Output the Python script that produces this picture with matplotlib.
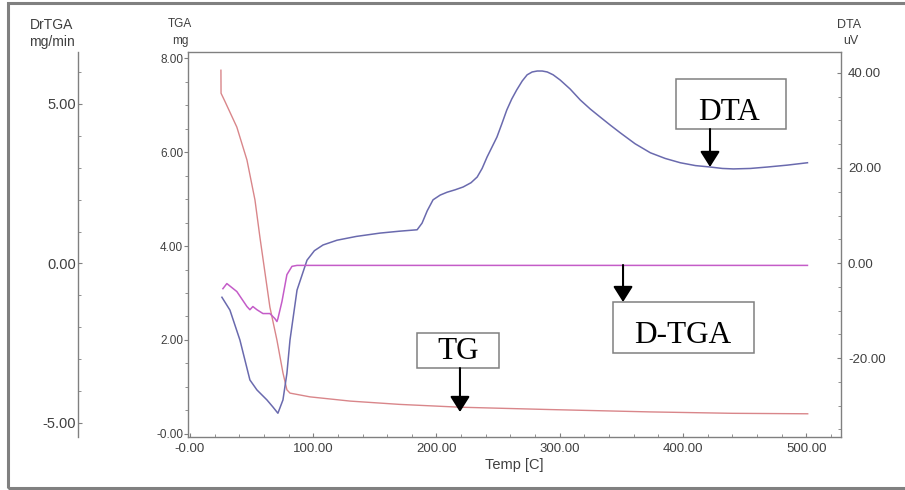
import numpy as np
import matplotlib.pyplot as plt
from matplotlib.patches import Rectangle
from matplotlib.ticker import MultipleLocator, FixedLocator

plt.rc('font', family='Liberation Sans')

# TG: sample mass (mg) against temperature (C)
tg_temp = [25.2, 25.3, 28.4, 38.1, 46.3, 52.8, 56.8, 64.9, 70.6, 75.5, 78.7, 81.2,
           97.4, 130, 170, 219, 292, 373, 440, 501]
tg_mass = [7.74, 7.25, 7.08, 6.53, 5.83, 4.98, 4.19, 2.70, 2.00, 1.30, 0.94, 0.87,
           0.79, 0.70, 0.63, 0.57, 0.52, 0.47, 0.44, 0.43]

# DTA signal (uV) against temperature (C)
dta_temp = [26.0, 32.5, 40.6, 48.7, 54.4, 62.5, 67.4, 71.4, 75.5, 78.7, 81.2, 86.9,
            95.0, 101, 108, 119.3, 135, 154.2, 170, 184.3, 188.3, 192.5, 197.2, 203,
            208.6, 215, 221.6, 228, 233, 237, 241, 245, 249, 253, 257, 261, 265,
            269.5, 273.5, 277.6, 281.7, 285.7, 289.8, 294.6, 300.3, 308.4, 316.6,
            324.7, 332.8, 341, 349, 361, 373.4, 385.5, 397.7, 410, 422, 431.8, 440.7,
            454.5, 468.3, 484.5, 500.8]
dta_signal = [-7.2, -9.9, -16.2, -24.6, -26.7, -28.8, -30.3, -31.6, -28.8, -23.2,
              -16.2, -5.7, 0.6, 2.6, 3.8, 4.8, 5.6, 6.3, 6.7, 7.0, 8.4, 11.0, 13.3,
              14.3, 14.9, 15.4, 16.0, 16.9, 18.1, 19.9, 22.3, 24.4, 26.5, 29.3, 32.2,
              34.5, 36.4, 38.3, 39.6, 40.2, 40.4, 40.4, 40.2, 39.6, 38.5, 36.6, 34.3,
              32.4, 30.7, 29.0, 27.4, 25.1, 23.2, 22.0, 21.1, 20.5, 20.2, 19.9, 19.8,
              19.9, 20.2, 20.6, 21.1]

# derivative TG (mg/min) against temperature (C)
dtg_temp = [26.8, 30.0, 38.1, 46.3, 48.7, 51.1, 54.4, 59.3, 64.9, 69.0, 70.6, 71.4,
            74.7, 78.7, 82.8, 86.9, 200, 350, 500.8]
dtg_rate = [-0.79, -0.63, -0.88, -1.35, -1.45, -1.35, -1.45, -1.57, -1.57, -1.73,
            -1.82, -1.73, -1.19, -0.35, -0.09, -0.06, -0.06, -0.06, -0.06]

x_ticks = [0, 100, 200, 300, 400, 500]
x_labels = ['-0.00', '100.00', '200.00', '300.00', '400.00', '500.00']
tga_ticks = [0, 2, 4, 6, 8]
tga_labels = ['-0.00', '2.00', '4.00', '6.00', '8.00']
dtg_ticks = [-5, 0, 5]
dtg_labels = ['-5.00', '0.00', '5.00']
dta_ticks = [-20, 0, 20, 40]
dta_labels = ['-20.00', '0.00', '20.00', '40.00']

grey = '#808080'
txt = '#404040'

fig = plt.figure(figsize=(9.05, 4.9), dpi=100)
fig.patches.append(Rectangle((8/905, 2/490), 1.0, 485/490, transform=fig.transFigure,
                             fill=False, ec=grey, lw=2.2, clip_on=False))

ax = fig.add_axes([188/905, 53/490, 653/905, 385/490])
ax2 = ax.twinx()
ax3 = ax.twinx()

ax.plot(tg_temp, tg_mass, color='#d9868a', lw=1.0)
ax2.plot(dta_temp, dta_signal, color='#6a6aae', lw=1.1)
ax3.plot(dtg_temp, dtg_rate, color='#c45cc8', lw=1.1)

ax.set_xlim(-1.5, 528)
ax.set_ylim(-0.064, 8.128)
ax2.set_ylim(-36.6, 44.4)
ax3.set_ylim(-5.44, 6.63)

for a in (ax, ax2, ax3):
    for s in a.spines.values():
        s.set_color(grey)
        s.set_linewidth(1.0)

ax.spines['right'].set_visible(False)
ax2.spines['left'].set_visible(False)
ax2.spines['top'].set_visible(False)
ax2.spines['bottom'].set_visible(False)
for k in ('right', 'top', 'bottom'):
    ax3.spines[k].set_visible(False)
ax3.spines['left'].set_visible(True)
ax3.spines['left'].set_position(('axes', -0.1685))
ax3.yaxis.set_ticks_position('left')
ax3.yaxis.set_label_position('left')

# temperature axis
ax.xaxis.set_major_locator(FixedLocator(x_ticks))
ax.set_xticklabels(x_labels)
ax.xaxis.set_minor_locator(MultipleLocator(20))
ax.tick_params(axis='x', which='both', direction='in', color=grey, labelcolor=txt,
               labelsize=9.5, pad=4.5)
ax.tick_params(axis='x', which='major', length=3)
ax.tick_params(axis='x', which='minor', length=2)
ax.set_xlabel('Temp [C]', fontsize=10.5, color=txt, labelpad=2)

# TGA axis
ax.yaxis.set_major_locator(FixedLocator(tga_ticks))
ax.set_yticklabels(tga_labels)
ax.yaxis.set_minor_locator(MultipleLocator(0.5))
ax.tick_params(axis='y', which='both', direction='out', color=grey, labelcolor=txt,
               labelsize=8.5, pad=0.5)
ax.tick_params(axis='y', which='major', length=3)
ax.tick_params(axis='y', which='minor', length=2)

# DTA axis
ax2.yaxis.set_major_locator(FixedLocator(dta_ticks))
ax2.set_yticklabels(dta_labels)
ax2.yaxis.set_minor_locator(MultipleLocator(5))
ax2.tick_params(axis='y', which='both', direction='in', color=grey, labelcolor=txt,
                labelsize=9.5, pad=5)
ax2.tick_params(axis='y', which='major', length=3)
ax2.tick_params(axis='y', which='minor', length=2)

# DrTGA axis
ax3.yaxis.set_major_locator(FixedLocator(dtg_ticks))
ax3.set_yticklabels(dtg_labels)
ax3.yaxis.set_minor_locator(MultipleLocator(1))
ax3.tick_params(axis='y', which='both', direction='in', color=grey, labelcolor=txt,
                labelsize=10.5, pad=1.5)
ax3.tick_params(axis='y', which='major', length=3)
ax3.tick_params(axis='y', which='minor', length=2)

# axis titles above each scale
fig.text(52/905, 1 - 25/490, 'DrTGA', ha='center', va='center', fontsize=10, color=txt)
fig.text(52/905, 1 - 42/490, 'mg/min', ha='center', va='center', fontsize=10, color=txt)
fig.text(180/905, 1 - 24/490, 'TGA', ha='center', va='center', fontsize=8.5, color=txt)
fig.text(180/905, 1 - 41/490, 'mg', ha='center', va='center', fontsize=8.5, color=txt)
fig.text(849/905, 1 - 25/490, 'DTA', ha='center', va='center', fontsize=9, color=txt)
fig.text(851/905, 1 - 41/490, 'uV', ha='center', va='center', fontsize=9, color=txt)

# labelled boxes with arrows pointing at the curves
boxes = [
    ('DTA', (0.7473, 0.8000, 0.1685, 0.1299), (0.829, 0.823), (0.7994, 0.800, 0.7013)),
    ('D-TGA', (0.6508, 0.2182, 0.2160, 0.1325), (0.7576, 0.2442), (0.6662, 0.4468, 0.3506)),
    ('TG', (0.3507, 0.1792, 0.1256, 0.0909), (0.4135, 0.2026), (0.4165, 0.1792, 0.0649)),
]
for name, (bx, by, bw, bh), (tx, ty), (axx, ay0, ay1) in boxes:
    ax3.add_patch(Rectangle((bx, by), bw, bh, transform=ax3.transAxes, fc='white',
                            ec=grey, lw=1.1, clip_on=False, zorder=5))
    ax3.text(tx, ty, name, transform=ax3.transAxes, ha='center', va='baseline',
             family='Liberation Serif', fontsize=22.5, color='black', zorder=6)
    ax3.annotate('', xy=(axx, ay1), xytext=(axx, ay0), xycoords='axes fraction',
                 textcoords='axes fraction', zorder=6,
                 arrowprops=dict(arrowstyle='-|>,head_length=0.95,head_width=0.6',
                                 color='black', lw=1.5, shrinkA=0, shrinkB=0,
                                 mutation_scale=10))

fig.savefig('out.png', dpi=100)
